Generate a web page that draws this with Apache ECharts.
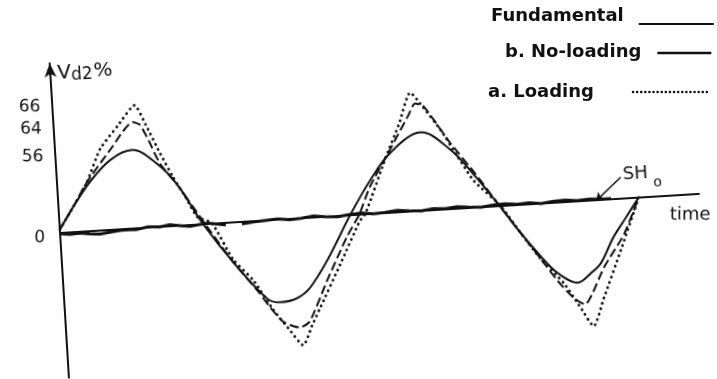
<!DOCTYPE html>
<html>
<head>
<meta charset="utf-8">
<script src="https://cdn.jsdelivr.net/npm/echarts@6.0.0/dist/echarts.min.js"></script>
</head>
<body style="margin:0;background:#fff">
<!-- the hand-drawn axes are tilted, so the plot div is turned a little -->
<div id="container" style="position:absolute;left:0;top:0;width:717px;height:379px;transform-origin:60px 232px;transform:rotate(-3.5deg)"></div>
<div id="key" style="position:absolute;left:0;top:0;width:717px;height:379px"></div>
<script>
// [time, Vd2] (time in drawing units along the axis)
const fundamental = [[0,2],[15,18],[33,35],[55,50],[77,56],[101,45],[120,29],[143,0],[171,-29],[203,-57],[216,-60],[232,-58],[246,-51],[265,-32],[291,0],
  [313,24],[335,43],[366,56],[395,42],[418,22],[440,0],[460,-21],[478,-38],[494,-51],[514,-59],[527,-53],[538,-46],[552,-28],[566,-14],[580,0]];
const noLoading = [[0,2],[15,18],[30,35],[55,57],[79,76],[86,74],[93,64],[104,45],[120,29],[145,0],[171,-29],[195,-52],[205,-63],[217,-74],[228,-78],[234,-79],[244,-75],[264,-46],[286,-16],[300,0],
  [312,19],[337,48],[355,69],[362,77],[370,75],[382,62],[395,47],[418,24],[440,0],[460,-21],[478,-40],[494,-57],[509,-70],[520,-75],[528,-67],[541,-49],[563,-26],[580,0]];
const loading = [[0,2],[15,18],[30,35],[45,58],[64,74],[82,88],[93,72],[105,52],[116,35],[128,19],[138,5],[152,0],[171,-27],[190,-43],[208,-65],[222,-79],[236,-92],[246,-78],[255,-66],[278,-35],[300,-5],[306,0],
  [330,40],[345,63],[358,85],[370,74],[386,57],[400,39],[416,19],[441,0],[460,-21],[478,-40],[500,-59],[515,-77],[527,-91],[539,-71],[559,-37],[580,0]];
const sh0 = [[0,-1],[10,-2],[20,-1.5],[30,-2.5],[40,-3],[52,-2],[64,-1],[76,-1.5],[88,0],[100,-0.5],[110,0.5],[120,-0.5],[130,-1.5],[140,-0.5],[148,0],[158,-1],[166,-2],[172,'-'],
  [182,-2],[194,-1],[206,-0.5],[218,0],[230,-1],[242,-0.5],[254,0.5],[266,-0.5],[278,-1],[290,0],[302,0.5],[314,-0.5],[326,0],[338,1],[350,0],[362,-0.5],[374,0.5],[386,0],
  [398,1],[410,0],[422,-0.5],[434,0.5],[446,1],[458,0],[470,0.5],[482,-0.5],[494,0.5],[506,1],[518,0],[530,0.5],[542,0],[552,0]];
const yTickPos = [0, 55, 75, 91];
const yTickText = ['0', '56', '64', '66'];

const ink = '#111';
const hand = 'DejaVu Sans';
const styles = {
    'Fundamental': {color: ink, width: 2},
    'b. No-loading': {color: ink, width: 2, type: [9, 4]},
    'a. Loading': {color: ink, width: 2.8, type: [0.1, 5.5], cap: 'round'}
};

const myChart = echarts.init(document.getElementById('container'));
const option = {
    animation: false,
    grid: {left: 60, top: 63, width: 640, height: 315},
    xAxis: {
        type: 'value', min: 0, max: 640,
        axisLine: {lineStyle: {color: ink, width: 2}},
        axisTick: {show: false}, axisLabel: {show: false}, splitLine: {show: false},
        name: 'time', nameLocation: 'end', nameGap: -29, nameRotate: -3.5,
        nameTextStyle: {color: ink, fontFamily: hand, fontSize: 18, align: 'left', verticalAlign: 'top', padding: [11, 0, 0, 0]}
    },
    yAxis: {
        type: 'value', min: -105, max: 122,
        axisLine: {lineStyle: {color: ink, width: 2}, symbol: ['none', 'arrow'], symbolSize: [9, 14]},
        axisTick: {show: false}, splitLine: {show: false},
        axisLabel: {
            customValues: yTickPos,
            formatter: function (v) {
                const t = yTickText[yTickPos.indexOf(v)];
                return v === 0 ? '{z|' + t + '}' : t;
            },
            color: ink, fontFamily: hand, fontSize: 17, margin: 12, rotate: -3.5,
            rich: {z: {color: ink, fontFamily: hand, fontSize: 17, padding: [10, 3, 0, 0]}}
        },
        name: 'V{s|d2}%', nameLocation: 'end', nameGap: 0,
        nameTextStyle: {color: ink, fontFamily: hand, fontSize: 20, align: 'left', verticalAlign: 'top', padding: [0, 0, 0, 7],
            rich: {s: {fontFamily: hand, fontSize: 17, color: ink, padding: [5, 1, 0, 0]}}}
    },
    series: [
        {name: 'Fundamental', type: 'line', data: fundamental, symbol: 'none', smooth: 0.35, lineStyle: styles['Fundamental']},
        {name: 'b. No-loading', type: 'line', data: noLoading, symbol: 'none', smooth: 0.2, lineStyle: styles['b. No-loading']},
        {name: 'a. Loading', type: 'line', data: loading, symbol: 'none', smooth: 0.2, lineStyle: styles['a. Loading']},
        {
            name: 'SH0', type: 'line', data: sh0, symbol: 'none', lineStyle: {color: ink, width: 3},
            markLine: {
                silent: true, symbol: ['arrow', 'none'], symbolSize: 8,
                lineStyle: {color: ink, width: 1.5, type: 'solid'},
                label: {show: true, position: 'end', distance: 3, align: 'left', formatter: '{s|SH}{o|o}',
                    rich: {s: {fontFamily: hand, fontSize: 18, color: ink}, o: {fontFamily: hand, fontSize: 14, color: ink, padding: [20, 0, 0, 5]}}},
                data: [[{coord: [537, -1]}, {coord: [563, 15]}]]
            }
        }
    ]
};
myChart.setOption(option, true);

// legend is printed straight, so it sits on an untilted layer
const keyFont = {color: ink, fontFamily: 'DejaVu Sans', fontWeight: 'bold', fontSize: 18};
function keyText(padding) {
    return {rich: {t: Object.assign({padding: padding}, keyFont)}};
}
const keyChart = echarts.init(document.getElementById('key'));
keyChart.setOption({
    animation: false,
    xAxis: {show: false}, yAxis: {show: false},
    legend: [
        {data: ['Fundamental'], left: 491, top: 7, padding: 0, itemWidth: 75, itemHeight: 14, align: 'right', selectedMode: false,
            itemStyle: {opacity: 0}, formatter: '{t|{name}}', textStyle: keyText([0, 10, 16, 0])},
        {data: ['b. No-loading'], left: 505, top: 43, padding: 0, itemWidth: 54, itemHeight: 14, align: 'right', selectedMode: false,
            itemStyle: {opacity: 0}, lineStyle: {type: 'solid', width: 2.5}, formatter: '{t|{name}}', textStyle: keyText([0, 11, 2, 0])},
        {data: ['a. Loading'], left: 488, top: 83, padding: 0, itemWidth: 76, itemHeight: 14, align: 'right', selectedMode: false,
            itemStyle: {opacity: 0}, lineStyle: {width: 2.5, type: [0.1, 4]}, formatter: '{t|{name}}', textStyle: keyText([0, 34, 0, 0])}
    ],
    series: Object.keys(styles).map(function (n) {
        return {name: n, type: 'line', data: [], symbol: 'none', itemStyle: {color: ink}, lineStyle: styles[n]};
    })
});
</script>
</body>
</html>
